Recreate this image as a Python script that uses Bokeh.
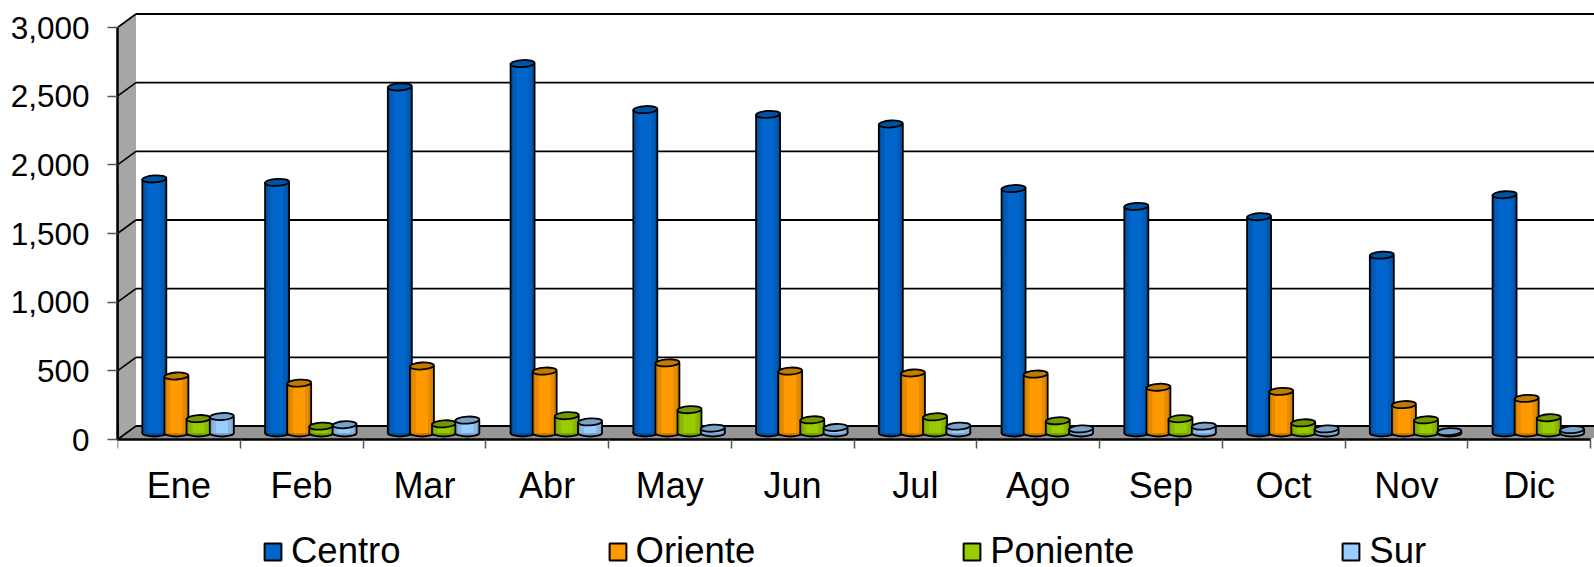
from bokeh.embed import file_html
from bokeh.resources import INLINE
from bokeh.plotting import figure
from bokeh.models import Range1d, LinearAxis, FixedTicker, Legend, LegendItem, NumeralTickFormatter

months = ["Ene", "Feb", "Mar", "Abr", "May", "Jun", "Jul", "Ago", "Sep", "Oct", "Nov", "Dic"]
series = ["Centro", "Oriente", "Poniente", "Sur"]
centro = [1850, 1825, 2520, 2690, 2355, 2320, 2250, 1780, 1650, 1575, 1295, 1735]
oriente = [415, 363, 488, 451, 511, 451, 437, 429, 333, 303, 207, 252]
poniente = [105, 50, 67, 126, 170, 96, 118, 89, 104, 74, 96, 111]
sur = [120, 60, 94, 81, 35, 40, 50, 30, 50, 30, 10, 25]
values = [centro, oriente, poniente, sur]
y_ticks = [0, 500, 1000, 1500, 2000, 2500, 3000]

# (outer edge, mid, centre, top cap)
shades = [
    ("#0050a0", "#005cb8", "#0066cc", "#0052a3"),
    ("#cc7a00", "#e68a00", "#ff9900", "#c27a00"),
    ("#7aa300", "#8ab800", "#99cc00", "#729900"),
    ("#7aa3cc", "#8ab8e6", "#99ccff", "#7aa3cc"),
]

# layout constants (pixels on the page)
W, H = 1594, 567
LEFT, Y0, MONTH_PX = 117, 439, 122.75
PX_PER_UNIT = 412 / 3000
XMAX = (W - LEFT) / MONTH_PX
YMAX = Y0 / PX_PER_UNIT
YMIN = -(H - Y0) / PX_PER_UNIT
DX = 18.5 / MONTH_PX       # depth of the 3-D box
DY = 13.5 / PX_PER_UNIT
LIFT = 6.5 / PX_PER_UNIT   # bars stand in the middle of the floor
BAR_W = 24 / MONTH_PX
CAP_H = 7 / PX_PER_UNIT
BAR_POS = [0.30, 0.48, 0.66, 0.85]

p = figure(width=W, height=H, output_backend="svg", toolbar_location=None,
           x_range=Range1d(0, XMAX), y_range=Range1d(YMIN, YMAX),
           min_border_left=LEFT, min_border_right=0, min_border_top=0,
           min_border_bottom=0, x_axis_type=None, y_axis_type=None,
           outline_line_color=None, background_fill_color="white")
p.styles = {"position": "absolute", "left": "0", "top": "0"}
p.grid.visible = False

# walls and floor
p.patch([0, DX, DX, 0], [0, DY, 3000 + DY, 3000], fill_color="#a6a6a6", line_color=None)
p.patch([0, DX, XMAX + DX, 12], [0, DY, DY, 0], fill_color="#969696", line_color=None)

# gridlines
for t in y_ticks:
    lw = 2.2 if t == 3000 else 1.8
    p.segment([DX], [t + DY], [XMAX + DX], [t + DY], line_color="black", line_width=lw)
    p.segment([0], [t], [DX], [t + DY], line_color="black", line_width=1.6)

# cylinders
legend_items = []
for s, (name, vals, pos, sh) in enumerate(zip(series, values, BAR_POS, shades)):
    xs = [i + pos for i in range(len(months))]
    tops = [v + LIFT for v in vals]
    p.ellipse(xs, [LIFT] * len(xs), width=BAR_W, height=CAP_H, fill_color=sh[0],
              line_color="black", line_width=1.8)
    for frac, col in zip((1.0, 0.8, 0.5), sh[:3]):
        p.vbar(x=xs, bottom=LIFT, top=tops, width=BAR_W * frac, fill_color=col, line_color=None)
    for sign in (-1, 1):
        sx = [x + sign * BAR_W / 2 for x in xs]
        p.segment(sx, [LIFT] * len(xs), sx, tops, line_color="black", line_width=1.8)
    p.ellipse(xs, tops, width=BAR_W, height=CAP_H, angle=0.06, fill_color=sh[3],
              line_color="black", line_width=1.8)
    # legend swatch: lies left of the visible x range, only its legend glyph shows
    swatch = p.vbar(x=[-5], bottom=[0], top=[vals[0]], width=1, fill_color=sh[2],
                    line_color="black", line_width=2)
    legend_items.append(LegendItem(label=name, renderers=[swatch]))

# axes
yax = LinearAxis(ticker=FixedTicker(ticks=y_ticks), bounds=(0, 3000))
yax.formatter = NumeralTickFormatter(format="0,0")
yax.axis_line_color = "black"
yax.axis_line_width = 2.5
yax.major_tick_in = 0
yax.major_tick_out = 10
yax.major_tick_line_color = "#555555"
yax.major_tick_line_width = 1.5
yax.minor_tick_line_color = None
yax.major_label_standoff = 18
yax.major_label_text_font = "Liberation Sans"
yax.major_label_text_font_size = "31.5px"
yax.major_label_text_color = "black"
p.add_layout(yax, "left")

centers = [i + 0.5 for i in range(len(months))]
xax = LinearAxis(ticker=FixedTicker(ticks=centers, minor_ticks=list(range(len(months) + 1))),
                 bounds=(0, 12), fixed_location=0)
xax.major_label_overrides = dict(zip(centers, months))
xax.axis_line_color = "black"
xax.axis_line_width = 2.5
xax.major_tick_line_color = None
xax.minor_tick_in = 0
xax.minor_tick_out = 9
xax.minor_tick_line_color = "#555555"
xax.minor_tick_line_width = 1.5
xax.major_label_standoff = 16
xax.major_label_text_font = "Liberation Sans"
xax.major_label_text_font_size = "36px"
xax.major_label_text_color = "black"
p.add_layout(xax, "below")

legend = Legend(items=legend_items, orientation="horizontal", location=(145, -5),
                spacing=206, glyph_width=21, glyph_height=21, label_standoff=8,
                border_line_color=None, background_fill_alpha=0,
                label_text_font="Liberation Sans", label_text_font_size="36.5px",
                label_text_color="black", margin=0, padding=0)
p.add_layout(legend, "center")

open("out.html", "w").write(file_html(p, INLINE))
